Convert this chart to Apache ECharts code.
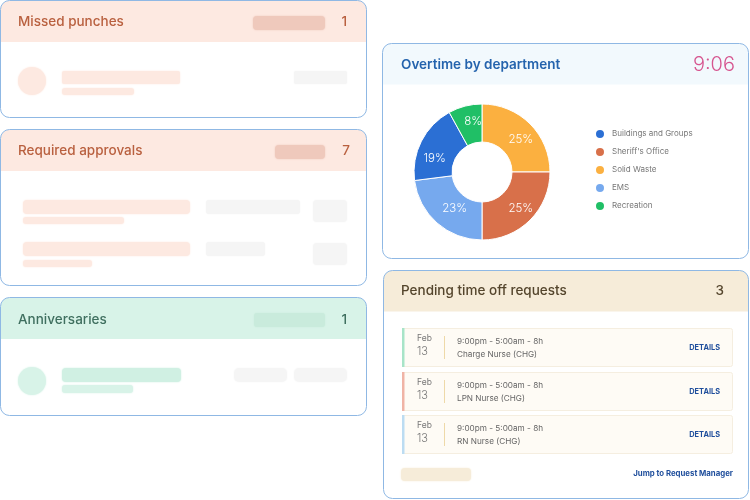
<!DOCTYPE html>
<html><head><meta charset="utf-8">
<style>html,body{margin:0;padding:0;background:#fff}#c{width:750px;height:500px}</style>
<script src="https://cdn.jsdelivr.net/npm/echarts@6/dist/echarts.min.js"></script>
</head><body><div id="c"></div>
<script>
const legendOrder = ["Buildings and Groups","Sheriff's Office","Solid Waste","EMS","Recreation"];
const departments = ["Solid Waste","Sheriff's Office","EMS","Buildings and Groups","Recreation"];
const shares = [25,25,23,19,8];
const sliceColors = ["#fbb040","#d8704a","#76a9ee","#2b6fd4","#20bf66"];
const requestDates = ["Feb","Feb","Feb"];
const requestDays = ["13","13","13"];
const requestTimes = ["9:00pm - 5:00am - 8h","9:00pm - 5:00am - 8h","9:00pm - 5:00am - 8h"];
const requestRoles = ["Charge Nurse (CHG)","LPN Nurse (CHG)","RN Nurse (CHG)"];

const FONT = '"Inter","Noto Sans",sans-serif';
const labelNudge = [[2,4],[2,0],[7,-2],[-1,10],[4,0]];
const g = [];
function rect(x,y,w,h,fill,r,extra){g.push({type:'rect',silent:true,shape:{x,y,width:w,height:h,r:r||0},style:Object.assign({fill},extra||{})});}
function soft(x,y,w,h,fill,r){rect(x,y,w,h,fill,r,{shadowBlur:2,shadowColor:fill});}
function txt(x,y,t,size,color,weight,align){g.push({type:'text',silent:true,x,y,style:{text:t,fontFamily:FONT,fontSize:size,fontWeight:weight||400,fill:color,align:align||'left',verticalAlign:'middle'}});}
function circle(cx,cy,r,fill){g.push({type:'circle',silent:true,shape:{cx,cy,r},style:{fill,shadowBlur:2,shadowColor:fill}});}
function card(x,y,w,h,headH,headFill){
  rect(x,y,w,h,'#fff',9);
  rect(x,y,w,headH,headFill,[9,9,0,0]);
  g.push({type:'rect',silent:true,shape:{x,y,width:w,height:h,r:9},style:{fill:'none',stroke:'#8fb8e4',lineWidth:1}});
}
const PINK='#fde9e1',GREY='#f5f5f5',RED='#b9603f',PILL='#efc9bc';
const TS=13.5, TW=500;
// Missed punches
card(0.5,0.5,366,117,41.5,PINK);
txt(18,22,'Missed punches',TS,RED,TW);
soft(253,16,72,14,PILL,4);
txt(347,22,'1',TS,RED,TW,'right');
circle(32,81,14,PINK);
soft(62,71,118,13,PINK,2);
soft(62,88,72,7,PINK,3);
soft(294,71,53,13,GREY,2);
// Required approvals
card(0.5,129.5,366,156,41.5,PINK);
txt(18,151,'Required approvals',TS,RED,TW);
soft(275,145,50,14,PILL,4);
txt(350,151,'7',TS,RED,TW,'right');
soft(23,200,167,14,PINK,4); soft(23,217,101,7,PINK,3);
soft(206,200,94,14,GREY,3); soft(313,200,34,22,GREY,4);
soft(23,242,167,14,PINK,4); soft(23,260,69,7,PINK,3);
soft(206,242,59,14,GREY,3); soft(313,243,34,22,GREY,4);
// Anniversaries
card(0.5,297.5,366,118,41.5,'#d8f3e8');
txt(18,320,'Anniversaries',TS,'#3f6f5f',TW);
soft(254,313,71,14,'#c9ebdc',3);
txt(347,320,'1',TS,'#3f6f5f',TW,'right');
circle(32,381,14,'#d8f3e8');
soft(62,368,119,14,'#d0f0e3',4); soft(62,385,71,8,'#d8f3e8',3);
soft(234,368,53,14,GREY,5); soft(294,368,53,14,GREY,5);
// Overtime
card(382.5,43.5,366,215,41,'#f2f9fd');
txt(401,65,'Overtime by department',TS,'#2463ad',600);
txt(735,65,'9:06',20,'#d6558f',300,'right');
// Pending
card(383.5,270.5,365,228,41,'#f6ecd9');
txt(401,291,'Pending time off requests',TS,'#54452c',TW);
txt(724,291,'3',TS,'#54452c',TW,'right');
const rowY=[328,372,415], rowBars=['#a8e4c8','#f0b4a6','#bcdcf2'];
requestDates.forEach((d,i)=>{
  const y=rowY[i];
  g.push({type:'rect',silent:true,shape:{x:402.5,y:y+0.5,width:330,height:38,r:2},style:{fill:'#fefbf5',stroke:'#f5eee0',lineWidth:1}});
  rect(402,y,2.5,39,rowBars[i]);
  txt(417,y+10,d,8.5,'#777');
  txt(417,y+24,requestDays[i],11,'#777',300);
  rect(444,y+8,1,23,'#eed9a8');
  txt(457,y+14,requestTimes[i],8.2,'#666');
  txt(457,y+27,requestRoles[i],8.2,'#666');
  txt(720,y+20,'DETAILS',7.4,'#1f4e9c',700,'right');
});
soft(401,468,70,13,'#f6ecd9',4);
txt(733,474,'Jump to Request Manager',7.8,'#1f4e9c',700,'right');

const chart = echarts.init(document.getElementById('c'),null,{renderer:'canvas'});
chart.setOption({
  animation:false,
  graphic:{elements:g},
  legend:{orient:'vertical',left:589,top:123,icon:'circle',itemWidth:10,itemHeight:10,itemGap:6,
    data:legendOrder,selectedMode:false,
    textStyle:{fontFamily:FONT,fontSize:8,color:'#777',padding:[0,0,0,2]}},
  series:[{type:'pie',z:10,center:[482,172],radius:[30,68],startAngle:90,clockwise:true,
    itemStyle:{borderColor:'#fff',borderWidth:1},
    label:{position:'inside',formatter:'{c}%',color:'#fff',fontFamily:FONT,fontSize:11.5,fontWeight:300},
    labelLine:{show:false},
    data:departments.map((n,i)=>({name:n,value:shares[i],itemStyle:{color:sliceColors[i]},label:{offset:labelNudge[i]}}))
  }]
});
</script></body></html>
